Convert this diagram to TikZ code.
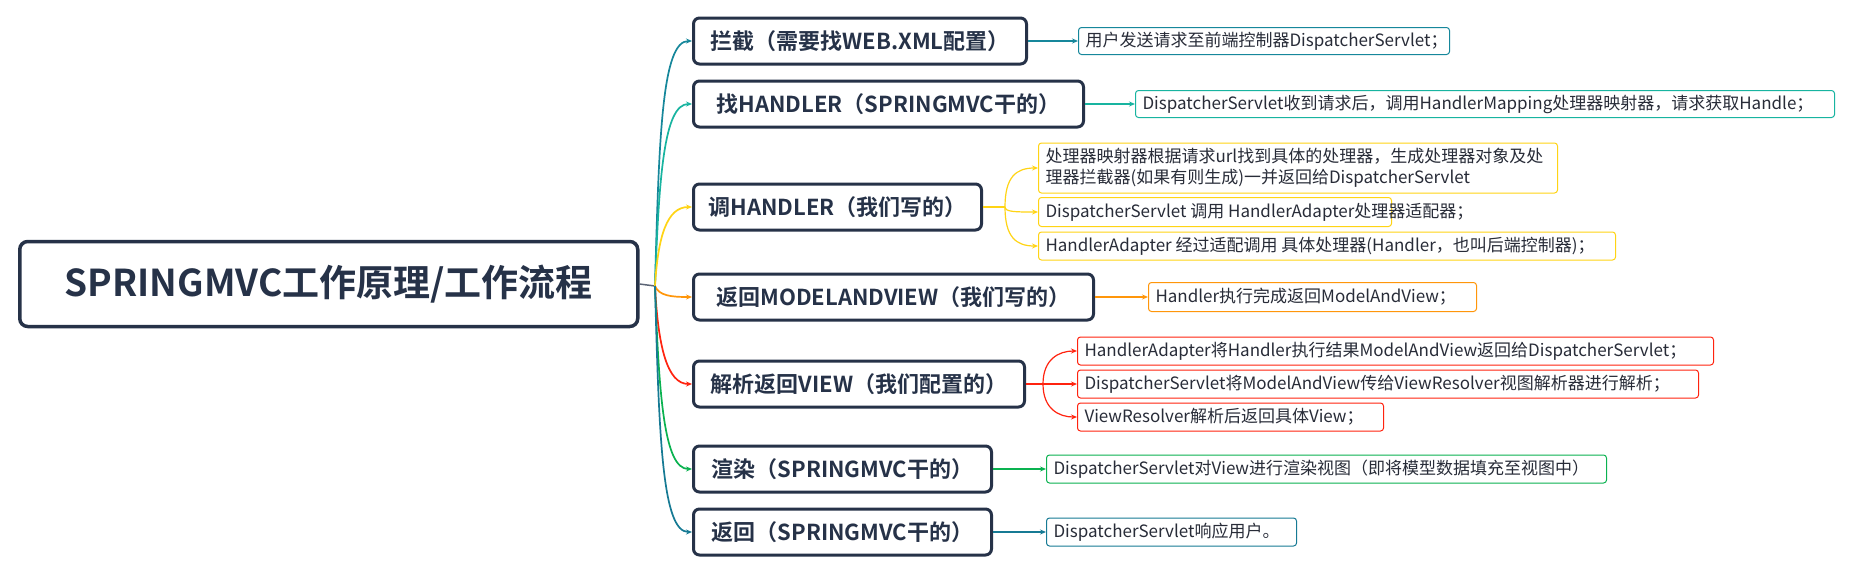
\documentclass[tikz,border=0pt]{standalone}
\usepackage{fontspec}
\setmainfont{Noto Sans CJK SC}[BoldFont={Noto Sans CJK SC Bold}]
\usetikzlibrary{arrows.meta}
\definecolor{navy}{RGB}{38,50,72}
\definecolor{txt}{RGB}{40,44,56}
\definecolor{cA}{RGB}{22,135,155}
\definecolor{cB}{RGB}{24,180,160}
\definecolor{cC}{RGB}{255,212,20}
\definecolor{cD}{RGB}{255,150,10}
\definecolor{cE}{RGB}{255,35,15}
\definecolor{cF}{RGB}{10,178,80}
\definecolor{cG}{RGB}{22,122,148}
\begin{document}
\begin{tikzpicture}[x=1pt,y=-1pt,
  rootbox/.style={draw=navy, line width=3.5pt, rounded corners=8pt, fill=white, anchor=west,
    minimum width=618pt, minimum height=85pt, inner sep=0pt, text=navy,
    font=\fontsize{37}{44}\selectfont\bfseries},
  lone/.style={draw=navy, line width=3pt, rounded corners=6pt, fill=white, anchor=west,
    minimum height=46pt, inner sep=0pt, text=navy, font=\fontsize{22}{26}\selectfont\bfseries},
  ltwo/.style={draw=#1, line width=1pt, rounded corners=3pt, fill=white, anchor=west,
    minimum height=27pt, inner xsep=7pt, inner ysep=0pt, text=txt,
    font=\fontsize{17}{21}\selectfont},
  brl/.style={draw=#1, line width=1.7pt, -{Stealth[length=6pt,width=5pt]}},
  lnk/.style={draw=#1, line width=1.2pt, -{Stealth[length=6pt,width=5pt]}},
  seg/.style={draw=#1, line width=1.2pt},
]
\fill[white] (0,0) rectangle (1852,574);
\useasboundingbox (0,0) rectangle (1852,574);

% root
\node[rootbox] (root) at (18,284) {SPRINGMVC工作原理/工作流程};

% level 1
\node[lone, minimum width=333pt] (b1) at (692,41) {拦截（需要找WEB.XML配置）};
\node[lone, minimum width=390pt] (b2) at (692,104) {找HANDLER（SPRINGMVC干的）};
\node[lone, minimum width=288pt] (b3) at (692,207) {调HANDLER（我们写的）};
\node[lone, minimum width=400pt] (b4) at (692,297) {返回MODELANDVIEW（我们写的）};
\node[lone, minimum width=331pt] (b5) at (692,384) {解析返回VIEW（我们配置的）};
\node[lone, minimum width=298pt] (b6) at (692,469) {渲染（SPRINGMVC干的）};
\node[lone, minimum width=298pt] (b7) at (692,532) {返回（SPRINGMVC干的）};

% level 2
\node[ltwo=cA] (n1) at (1078,41) {\makebox[357pt][l]{用户发送请求至前端控制器DispatcherServlet；}};
\node[ltwo=cB] (n2) at (1135,104) {\makebox[685pt][l]{DispatcherServlet收到请求后，调用HandlerMapping处理器映射器，请求获取Handle；}};
\node[ltwo=cC, minimum height=50pt] (n3a) at (1038,168) {\parbox{505pt}{\raggedright 处理器映射器根据请求url找到具体的处理器，生成处理器对象及处\\理器拦截器(如果有则生成)一并返回给DispatcherServlet}};
\node[ltwo=cC, minimum height=29pt] (n3b) at (1038,212) {\makebox[339pt][l]{DispatcherServlet 调用 HandlerAdapter处理器适配器；}};
\node[ltwo=cC, minimum height=28pt] (n3c) at (1038,246) {\makebox[563pt][l]{HandlerAdapter 经过适配调用 具体处理器(Handler，也叫后端控制器)；}};
\node[ltwo=cD, minimum height=29pt] (n4) at (1148,297) {\makebox[314pt][l]{Handler执行完成返回ModelAndView；}};
\node[ltwo=cE, minimum height=28pt] (n5a) at (1077,351) {\makebox[622pt][l]{HandlerAdapter将Handler执行结果ModelAndView返回给DispatcherServlet；}};
\node[ltwo=cE, minimum height=28pt] (n5b) at (1077,384) {\makebox[607pt][l]{DispatcherServlet将ModelAndView传给ViewResolver视图解析器进行解析；}};
\node[ltwo=cE, minimum height=28pt] (n5c) at (1077,417) {\makebox[292pt][l]{ViewResolver解析后返回具体View；}};
\node[ltwo=cF, minimum height=28pt] (n6) at (1046,469) {\makebox[546pt][l]{DispatcherServlet对View进行渲染视图（即将模型数据填充至视图中）}};
\node[ltwo=cG, minimum height=28pt] (n7) at (1046,532) {\makebox[236pt][l]{DispatcherServlet响应用户。}};

% root to junction
\coordinate (j) at (655,286);
\draw[navy!75!white, line width=1.5pt] (root.east) -- (j);

% branches
\draw[brl=cA] (j) .. controls +(4,-150) and +(-30,0) .. (b1.west);
\draw[brl=cB] (j) .. controls +(4,-110) and +(-28,0) .. (b2.west);
\draw[brl=cC] (j) .. controls +(3,-50) and +(-25,0) .. (b3.west);
\draw[brl=cD] (j) .. controls +(4,10) and +(-20,0) .. (b4.west);
\draw[brl=cE] (j) .. controls +(3,60) and +(-25,0) .. (b5.west);
\draw[brl=cF] (j) .. controls +(4,110) and +(-28,0) .. (b6.west);
\draw[brl=cG] (j) .. controls +(4,150) and +(-30,0) .. (b7.west);

% level 1 to level 2
\draw[lnk=cA] (b1.east) -- (n1.west);
\draw[lnk=cB] (b2.east) -- (n2.west);
\coordinate (s3) at (1005,207);
\draw[seg=cC] (b3.east) -- (s3);
\draw[lnk=cC] (s3) .. controls +(0,-30) and +(-22,0) .. (n3a.west);
\draw[lnk=cC] (s3) .. controls +(0,5) and +(-22,0) .. (n3b.west);
\draw[lnk=cC] (s3) .. controls +(0,30) and +(-22,0) .. (n3c.west);
\draw[lnk=cD] (b4.east) -- (n4.west);
\coordinate (s5) at (1043,384);
\draw[seg=cE] (b5.east) -- (s5);
\draw[lnk=cE] (s5) .. controls +(0,-25) and +(-18,0) .. (n5a.west);
\draw[lnk=cE] (s5) -- (n5b.west);
\draw[lnk=cE] (s5) .. controls +(0,25) and +(-18,0) .. (n5c.west);
\draw[lnk=cF] (b6.east) -- (n6.west);
\draw[lnk=cG] (b7.east) -- (n7.west);
\end{tikzpicture}
\end{document}
